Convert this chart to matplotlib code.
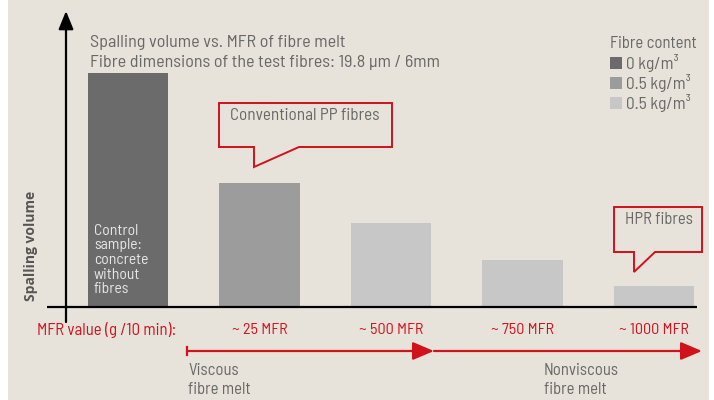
import matplotlib
matplotlib.use("Agg")
import matplotlib.pyplot as plt
from matplotlib.patches import Rectangle, Polygon

# ---- data ----
categories = ["Control", "~ 25 MFR", "~ 500 MFR", "~ 750 MFR", "~ 1000 MFR"]
spalling = [100, 53, 36, 20, 9]          # relative spalling volume (control = 100)
bar_colors = ["#6b6b6b", "#9c9c9c", "#c6c7c6", "#c6c7c6", "#c6c7c6"]
legend_labels = ["0 kg/m³", "0.5 kg/m³", "0.5 kg/m³"]
legend_colors = ["#6b6b6b", "#9c9c9c", "#c6c7c6"]
mfr_labels = categories[1:]

BG = "#e7e3da"
GREY = "#686868"
RED = "#d0121b"
FONT = ["Barlow Semi Condensed", "Asap Condensed", "DejaVu Sans"]
plt.rcParams["font.family"] = FONT

W, H = 714, 400
fig = plt.figure(figsize=(W / 100, H / 100), dpi=100, facecolor="white")

def fx(px):
    return px / W

def fy(py):
    return 1 - py / H

# beige panel
fig.patches.append(Rectangle((fx(8), 0), fx(709) - fx(8), 1, transform=fig.transFigure,
                             facecolor=BG, edgecolor="none", zorder=0))

# overlay axes in pixel coordinates for annotations
ov = fig.add_axes([0, 0, 1, 1], zorder=3)
ov.set_xlim(0, W)
ov.set_ylim(H, 0)
ov.axis("off")
ov.patch.set_alpha(0)

# main bar axes
left_px, right_px = 47, 697
base_px, top_px = 307, 12
ax = fig.add_axes([fx(left_px), fy(base_px), fx(right_px) - fx(left_px), fy(top_px) - fy(base_px)], zorder=2)
ax.patch.set_alpha(0)
x = list(range(len(categories)))
ax.bar(x, spalling, width=0.61, color=bar_colors, zorder=2)
ax.set_xlim(-0.616, 4.327)
ax.set_ylim(0, 126)
ax.axis("off")

# axes lines (drawn in overlay)
ov.plot([47, 697], [307, 307], color="black", lw=1.6, zorder=4, solid_capstyle="butt")
ov.annotate("", xy=(66, 11), xytext=(66, 322),
            arrowprops=dict(arrowstyle="-|>,head_length=1.1,head_width=0.45", color="black", lw=1.6,
                            shrinkA=0, shrinkB=0))

# y label
ov.text(31, 246, "Spalling volume", rotation=90, ha="center", va="center",
        fontsize=10, fontweight="bold", color="#555555", family=["Open Sans", "DejaVu Sans"])

# titles
TS = 13
LS = 12
ov.text(90, 43, "Spalling volume vs. MFR of fibre melt", fontsize=TS, color=GREY, va="center")
ov.text(90, 63, "Fibre dimensions of the test fibres: 19.8 µm / 6mm", fontsize=TS, color=GREY, va="center")

# text inside control bar
ov.text(94, 260, "Control\nsample:\nconcrete\nwithout\nfibres", fontsize=11.3, color="#e6e6e6",
        va="center", ha="left", linespacing=1.05, zorder=5)

# legend
ov.text(610, 43, "Fibre content", fontsize=LS, color=GREY, va="center")
for i, (lab, col) in enumerate(zip(legend_labels, legend_colors)):
    yy = 63 + i * 20
    ov.add_patch(Rectangle((610, yy - 6), 12, 12, facecolor=col, edgecolor="none"))
    ov.text(626, yy, lab, fontsize=12.5, color=GREY, va="center")

# MFR labels
ov.text(37, 330, "MFR value (g /10 min):", fontsize=12, color=RED, va="center", ha="left")
for xi, lab in zip(x[1:], mfr_labels):
    px = ax.transData.transform((xi, 0))[0]
    ov.text(px, 330, lab, fontsize=11.6, color=RED, va="center", ha="center")

# arrows
ov.plot([187, 187], [347, 355], color=RED, lw=1.6)
ov.annotate("", xy=(434, 351), xytext=(187, 351),
            arrowprops=dict(arrowstyle="-|>,head_length=1.3,head_width=0.55", color=RED, lw=1.6,
                            shrinkA=0, shrinkB=0))
ov.annotate("", xy=(702, 351), xytext=(434, 351),
            arrowprops=dict(arrowstyle="-|>,head_length=1.3,head_width=0.55", color=RED, lw=1.6,
                            shrinkA=0, shrinkB=0))
ov.text(188, 380, "Viscous\nfibre melt", fontsize=LS, color=GREY, va="center", ha="left", linespacing=1.3)
ov.text(544, 380, "Nonviscous\nfibre melt", fontsize=LS, color=GREY, va="center", ha="left", linespacing=1.3)

# callouts
def callout(x0, y0, x1, y1, t1, t2, t3):
    pts = [(x0, y0), (x1, y0), (x1, y1), (t3, y1), (t1, t2), (t1, y1), (x0, y1)]
    ov.add_patch(Polygon(pts, closed=True, facecolor=BG, edgecolor=RED, lw=1.4, zorder=6))

callout(219, 103, 392, 147, 254, 167, 299)
ov.text(230, 115, "Conventional PP fibres", fontsize=12.3, color=GREY, va="center", ha="left", zorder=7)
callout(614, 207, 702, 252, 634, 272, 655)
ov.text(693, 220, "HPR fibres", fontsize=LS, color=GREY, va="center", ha="right", zorder=7)

fig.savefig("out.png", dpi=100, facecolor="white")
